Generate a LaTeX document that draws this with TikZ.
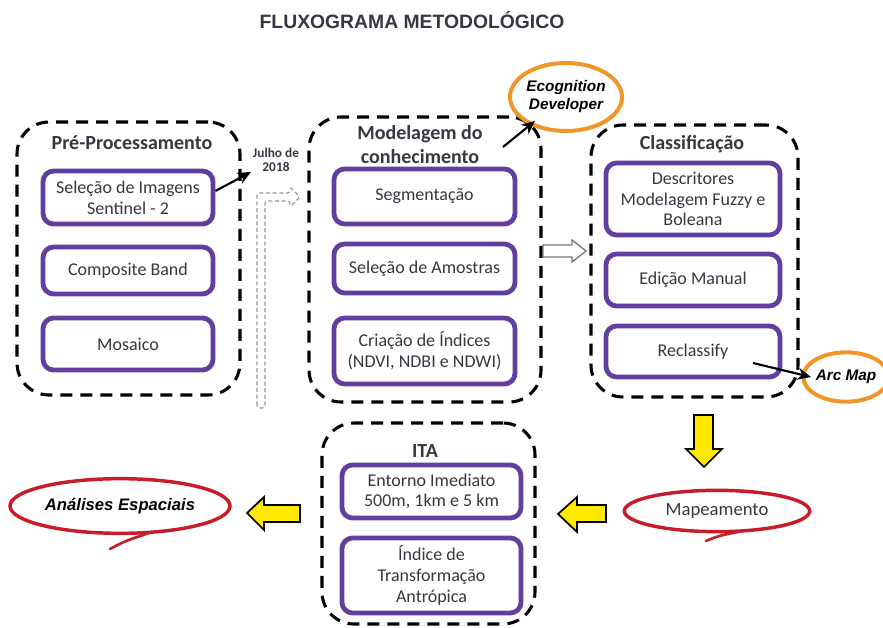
\documentclass[tikz,border=0pt]{standalone}
\usepackage{fontspec}
\setmainfont{Carlito}
\newfontfamily\arialf{Liberation Sans}
\usetikzlibrary{shapes.geometric,arrows.meta,fit}
\definecolor{purp}{RGB}{98,62,158}
\definecolor{txtg}{RGB}{55,55,65}
\definecolor{orng}{RGB}{240,150,40}
\definecolor{redc}{RGB}{200,28,40}
\definecolor{yell}{RGB}{255,232,0}
\definecolor{grayc}{RGB}{150,150,150}
\tikzset{
  grp/.style={draw=black, line width=2.3pt, dash pattern=on 9pt off 6pt, rounded corners=24pt, inner sep=0pt},
  pbox/.style={draw=purp, line width=3.6pt, rounded corners=8pt, fill=white, inner sep=0pt, align=center, text=txtg, font=\fontsize{13.5}{15.5}\selectfont},
  btext/.style={text=txtg, align=center, font=\fontsize{13.5}{15.5}\selectfont},
  gtitle/.style={font=\bfseries\fontsize{15}{18}\selectfont, text=txtg, align=center, inner sep=0pt},
  oell/.style={draw=orng, line width=3pt, ellipse, inner sep=0pt, text=black, align=center, font=\arialf\bfseries\itshape\fontsize{11.5}{13.5}\selectfont},
  rell/.style={draw=redc, line width=2.6pt, ellipse, inner sep=0pt},
  blk/.style={-{Stealth[length=10pt,width=9pt]}, line width=1.6pt, black},
  yarrow/.style={fill=yell, draw=black, line width=1.3pt, line join=miter},
  rtail/.style={redc, line width=2pt, line cap=round},
}
\begin{document}
\begin{tikzpicture}[x=0.75pt, y=-0.75pt]
\useasboundingbox (0,0) rectangle (883,628);

% title
\node[font=\arialf\bfseries\fontsize{14.5}{17}\selectfont, text=txtg] (title) at (412,20) {FLUXOGRAMA METODOLÓGICO};

% group 1
\coordinate (g1a) at (17,122); \coordinate (g1b) at (240,395);
\node[grp, fit=(g1a)(g1b)] (pre) {};
\node[gtitle] (pretitle) at (132,143) {Pré-Processamento};
\coordinate (s1a) at (43,171); \coordinate (s1b) at (213,224);
\node[pbox, fit=(s1a)(s1b)] (sel) {};
\node[btext] (selt) at (sel.center) {Seleção de Imagens\\Sentinel - 2};
\coordinate (s2a) at (43,247); \coordinate (s2b) at (213,294);
\node[pbox, fit=(s2a)(s2b)] (comp) {};
\node[btext] (compt) at (comp.center) {Composite Band};
\coordinate (s3a) at (43,318); \coordinate (s3b) at (213,370);
\node[pbox, fit=(s3a)(s3b)] (mos) {};
\node[btext] (most) at (mos.center) {Mosaico};

% group 2
\coordinate (g2a) at (309,117); \coordinate (g2b) at (541,402);
\node[grp, fit=(g2a)(g2b)] (mod) {};
\node[gtitle] (modtitle) at (420,145) {Modelagem do\\conhecimento};
\coordinate (m1a) at (334,169); \coordinate (m1b) at (515,224);
\node[pbox, fit=(m1a)(m1b)] (seg) {};
\node[btext] (segt) at (seg.center) {Segmentação};
\coordinate (m2a) at (334,244); \coordinate (m2b) at (515,293);
\node[pbox, fit=(m2a)(m2b)] (amo) {};
\node[btext] (amot) at (amo.center) {Seleção de Amostras};
\coordinate (m3a) at (334,318); \coordinate (m3b) at (515,384);
\node[pbox, fit=(m3a)(m3b)] (cri) {};
\node[btext] (crit) at (cri.center) {Criação de Índices\\(NDVI, NDBI e NDWI)};

% group 3
\coordinate (g3a) at (591,125); \coordinate (g3b) at (798,397);
\node[grp, fit=(g3a)(g3b)] (cla) {};
\node[gtitle] (clatitle) at (692,144) {Classificação};
\coordinate (c1a) at (606,163); \coordinate (c1b) at (780,235);
\node[pbox, fit=(c1a)(c1b)] (des) {};
\node[btext] (dest) at (des.center) {Descritores\\Modelagem Fuzzy e\\Boleana};
\coordinate (c2a) at (606,254); \coordinate (c2b) at (780,306);
\node[pbox, fit=(c2a)(c2b)] (edi) {};
\node[btext] (edit) at (edi.center) {Edição Manual};
\coordinate (c3a) at (606,326); \coordinate (c3b) at (780,377);
\node[pbox, fit=(c3a)(c3b)] (rec) {};
\node[btext] (rect) at (rec.center) {Reclassify};

% group 4 (ITA)
\coordinate (g4a) at (322,423); \coordinate (g4b) at (535,624);
\node[grp, fit=(g4a)(g4b)] (ita) {};
\node[gtitle] (itatitle) at (425,451) {ITA};
\coordinate (i1a) at (342,465); \coordinate (i1b) at (521,518);
\node[pbox, fit=(i1a)(i1b)] (ent) {};
\node[btext] (entt) at (ent.center) {Entorno Imediato\\500m, 1km e 5 km};
\coordinate (i2a) at (342,538); \coordinate (i2b) at (521,613);
\node[pbox, fit=(i2a)(i2b)] (ind) {};
\node[btext] (indt) at (ind.center) {Índice de\\Transformação\\Antrópica};

% ellipses
\node[oell, minimum width=84pt, minimum height=51pt] (eco) at (566,97) {Ecognition\\Developer};
\node[oell, minimum width=58pt, minimum height=37pt, font=\arialf\bfseries\itshape\fontsize{11.5}{13}\selectfont] (arc) at (846,377) {Arc Map};
\node[rell, minimum width=165pt, minimum height=41pt, font=\arialf\bfseries\itshape\fontsize{12.5}{14}\selectfont] (ana) at (120,506) {Análises Espaciais};
\node[rell, minimum width=139pt, minimum height=31pt, text=txtg, font=\fontsize{14}{16}\selectfont] (map) at (717,511) {Mapeamento};
\coordinate (anat1) at (110,549);
\draw[rtail] (anat1) .. controls (125,541) .. (152,532);
\coordinate (mapt1) at (706,541);
\draw[rtail] (mapt1) .. controls (718,536) .. (742,531);

% black arrows
\coordinate (jtip) at (251,172);
\draw[blk] (sel.east |- 0,191) -- (jtip);
\node[font=\bfseries\fontsize{10}{11}\selectfont, text=txtg, align=center, inner sep=0pt] (julho) at (276,160) {Julho de\\2018};
\coordinate (ecs) at (503,147); \coordinate (ect) at (535,121);
\draw[blk] (ecs) -- (ect);
\coordinate (ars) at (753,363); \coordinate (art) at (811,377);
\draw[blk] (ars) -- (art);

% gray dashed L hollow arrow
\draw[grayc, line width=0.9pt, dash pattern=on 3pt off 2pt, rounded corners=2pt]
  (257,408) -- (257,193) -- (290,193) -- (290,187) -- (300,197) -- (290,207) -- (290,201) -- (265,201) -- (265,408) -- cycle;

% gray hollow arrow between groups
\draw[grayc!80!black, line width=1pt, fill=white, line join=miter]
  (543,245) -- (572,245) -- (572,240) -- (586,251) -- (572,262) -- (572,257) -- (543,257) -- cycle;

% yellow arrows
\draw[yarrow] (694,415) -- (713,415) -- (713,449) -- (722,449) -- (704,467) -- (686,449) -- (694,449) -- cycle;
\draw[yarrow] (606,505) -- (577,505) -- (577,497) -- (558,514) -- (577,532) -- (577,522) -- (606,522) -- cycle;
\draw[yarrow] (300,505) -- (264,505) -- (264,497) -- (247,513) -- (264,530) -- (264,522) -- (300,522) -- cycle;
\end{tikzpicture}
\end{document}
